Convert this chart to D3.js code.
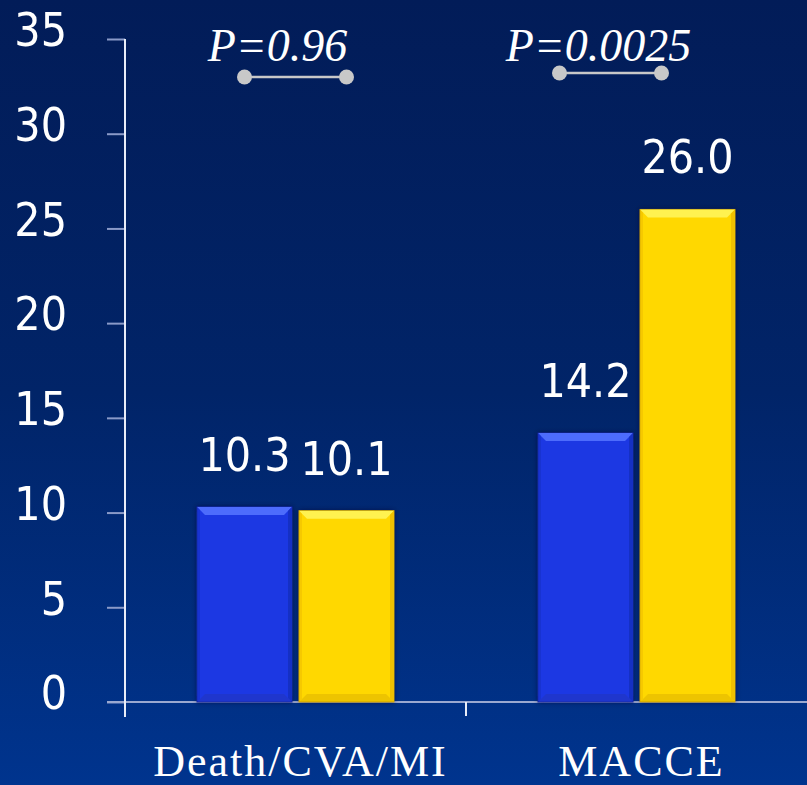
<!DOCTYPE html>
<html>
<head>
<meta charset="utf-8">
<script src="https://cdn.jsdelivr.net/npm/d3@7"></script>
<style>
  html, body { margin: 0; padding: 0; background: #00318a; }
  svg { display: block; }
</style>
</head>
<body>
<div id="chart"></div>
<script>
// Event rates (%) per endpoint, two treatment arms
const categories = ["Death/CVA/MI", "MACCE"];
const seriesNames = ["armA", "armB"];
const armAValues = [10.3, 14.2];
const armBValues = [10.1, 26.0];
const valueLabels = [["10.3", "10.1"], ["14.2", "26.0"]];
const pValues = ["P=0.96", "P=0.0025"];
const yTicks = [0, 5, 10, 15, 20, 25, 30, 35];

const W = 807, H = 785;
const plotLeft = 125, plotRight = 807, plotTop = 39, plotBottom = 702;

const svg = d3.select("#chart").append("svg")
  .attr("width", W).attr("height", H);

const defs = svg.append("defs");
const bg = defs.append("linearGradient").attr("id", "bg")
  .attr("x1", 0).attr("y1", 0).attr("x2", 0).attr("y2", 1);
bg.append("stop").attr("offset", 0).attr("stop-color", "#021c58");
bg.append("stop").attr("offset", 0.5).attr("stop-color", "#012468");
bg.append("stop").attr("offset", 1).attr("stop-color", "#00348e");

const shadow = defs.append("filter").attr("id", "barShadow")
  .attr("x", "-10%").attr("y", "-10%").attr("width", "120%").attr("height", "120%");
shadow.append("feDropShadow").attr("dx", 0).attr("dy", 0)
  .attr("stdDeviation", 2.5).attr("flood-color", "#000a30").attr("flood-opacity", 0.6);

const glow = defs.append("filter").attr("id", "soft");
glow.append("feGaussianBlur").attr("stdDeviation", 0.5);

svg.append("rect").attr("width", W).attr("height", H).attr("fill", "url(#bg)");

const y = d3.scaleLinear().domain([0, 35]).range([plotBottom, plotTop]);
const x = d3.scaleBand().domain(categories).range([plotLeft, plotRight]);
const x1 = d3.scaleBand().domain(seriesNames)
  .range([72, x.bandwidth() - 72]).paddingInner(0.0686);

const palette = {
  armA: { main: "#1b38e3", top: "#4d6cfc", side: "#1530c4", bottom: "#2234b8", edge: "#0f2296" },
  armB: { main: "#ffd805", top: "#fff250", side: "#f0c000", bottom: "#dcb000", edge: "#b89000" }
};

// y axis
const yAxis = d3.axisLeft(y).tickValues(yTicks).tickSize(18).tickSizeOuter(0).tickPadding(40);
const gy = svg.append("g").attr("transform", `translate(${plotLeft},0)`).call(yAxis);
gy.select(".domain").remove();
gy.selectAll(".tick line").attr("stroke", "#8a9ac8").attr("stroke-width", 2);
gy.selectAll(".tick text")
  .attr("fill", "#ffffff")
  .attr("font-family", "'DejaVu Sans Condensed', 'DejaVu Sans', sans-serif")
  .attr("font-size", 46)
  .attr("dy", "0.32em")
  .attr("y", -8)
  .attr("filter", "url(#soft)");

// axis lines
svg.append("line")
  .attr("x1", plotLeft - 18).attr("x2", plotRight)
  .attr("y1", y(0)).attr("y2", y(0))
  .attr("stroke", "#9aa8d0").attr("stroke-width", 2);
svg.append("line")
  .attr("x1", plotLeft).attr("x2", plotLeft)
  .attr("y1", y(35)).attr("y2", y(0) + 15)
  .attr("stroke", "#e8ecf8").attr("stroke-width", 2);

// category boundary ticks on the x axis
const boundaries = categories.slice(1).map(c => x(c));
svg.selectAll(".xtick").data(boundaries).enter().append("line")
  .attr("x1", d => d).attr("x2", d => d)
  .attr("y1", y(0)).attr("y2", y(0) + 14)
  .attr("stroke", "#e8ecf8").attr("stroke-width", 2);

// category labels
svg.selectAll(".cat").data(categories).enter().append("text")
  .attr("x", d => x(d) + x.bandwidth() / 2 + 5)
  .attr("y", 776)
  .attr("text-anchor", "middle")
  .attr("fill", "#ffffff")
  .attr("font-family", "'Liberation Serif', serif")
  .attr("font-size", 44)
  .attr("letter-spacing", 2)
  .text(d => d);

// bars with bevelled faces
const rows = categories.map((c, i) => ({
  cat: c,
  items: [
    { key: "armA", value: armAValues[i], label: valueLabels[i][0] },
    { key: "armB", value: armBValues[i], label: valueLabels[i][1] }
  ]
}));

const groups = svg.selectAll(".grp").data(rows).enter().append("g")
  .attr("transform", d => `translate(${x(d.cat)},0)`);

const bars = groups.selectAll(".bar").data(d => d.items).enter().append("g");

bars.each(function (d) {
  const g = d3.select(this);
  const bx = x1(d.key), bw = x1.bandwidth();
  const by = y(d.value), bh = y(0) - y(d.value);
  const c = palette[d.key];
  const b = 8;
  g.append("rect").attr("x", bx).attr("y", by).attr("width", bw).attr("height", bh)
    .attr("fill", c.main).attr("stroke", c.edge).attr("stroke-width", 1)
    .attr("filter", "url(#barShadow)");
  // top bevel
  g.append("path")
    .attr("d", `M${bx},${by}L${bx + bw},${by}L${bx + bw - b},${by + b}L${bx + b},${by + b}Z`)
    .attr("fill", c.top);
  // right bevel
  g.append("path")
    .attr("d", `M${bx + bw},${by}L${bx + bw},${by + bh}L${bx + bw - 4},${by + bh - 4}L${bx + bw - 4},${by + 4}Z`)
    .attr("fill", c.side);
  // bottom bevel
  g.append("path")
    .attr("d", `M${bx},${by + bh}L${bx + bw},${by + bh}L${bx + bw - b},${by + bh - b}L${bx + b},${by + bh - b}Z`)
    .attr("fill", c.bottom).attr("opacity", 0.5);
  // left bevel
  g.append("path")
    .attr("d", `M${bx},${by}L${bx},${by + bh}L${bx + 3},${by + bh - 3}L${bx + 3},${by + 3}Z`)
    .attr("fill", c.side).attr("opacity", 0.6);
});

// value labels
bars.append("text")
  .attr("x", d => x1(d.key) + x1.bandwidth() / 2)
  .attr("y", d => y(d.value) - 36)
  .attr("text-anchor", "middle")
  .attr("fill", "#ffffff")
  .attr("font-family", "'DejaVu Sans Condensed', 'DejaVu Sans', sans-serif")
  .attr("font-size", 46)
  .attr("filter", "url(#soft)")
  .text(d => d.label);

// significance brackets
const bracketShift = [0, -26];
const bracketY = [77, 73];
const pLabelDx = [-18, -12];
const brackets = svg.selectAll(".pv").data(categories).enter().append("g")
  .attr("transform", (d, i) => `translate(${x(d) + bracketShift[i]},0)`);
brackets.append("line")
  .attr("x1", x1("armA") + x1.bandwidth() / 2)
  .attr("x2", x1("armB") + x1.bandwidth() / 2)
  .attr("y1", (d, i) => bracketY[i]).attr("y2", (d, i) => bracketY[i])
  .attr("stroke", "#c8c8c8").attr("stroke-width", 2.5);
seriesNames.forEach(s => {
  brackets.append("circle")
    .attr("cx", x1(s) + x1.bandwidth() / 2)
    .attr("cy", (d, i) => bracketY[i])
    .attr("r", 7.5)
    .attr("fill", "#c8c8c8");
});
brackets.append("text")
  .attr("x", (d, i) => x1("armA") + (x1("armB") + x1.bandwidth() - x1("armA")) / 2 + pLabelDx[i])
  .attr("y", 61)
  .attr("text-anchor", "middle")
  .attr("fill", "#ffffff")
  .attr("font-family", "'Liberation Serif', serif")
  .attr("font-style", "italic")
  .attr("font-size", 46)
  .text((d, i) => pValues[i]);
</script>
</body>
</html>
